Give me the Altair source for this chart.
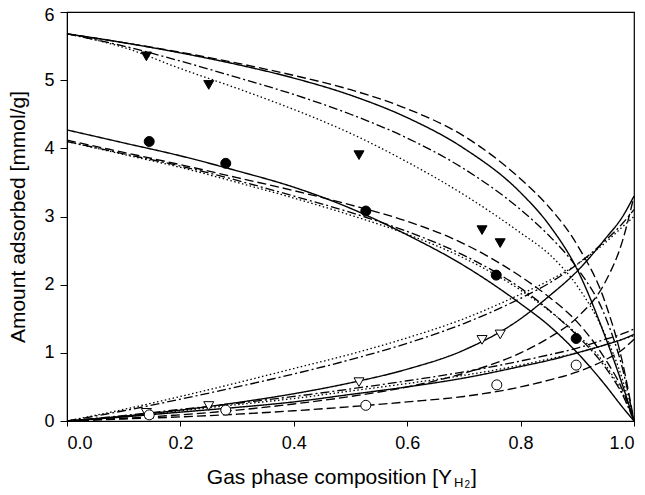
import altair as alt
import pandas as pd

# common x grid for the model curves
x_grid = [0.0, 0.1, 0.2, 0.3, 0.4, 0.5, 0.6, 0.7, 0.8, 0.85, 0.9, 0.95, 0.98, 1.0]

# group A (upper, filled triangles)
a_solid = [5.68, 5.55, 5.40, 5.23, 5.03, 4.78, 4.45, 4.00, 3.35, 2.88, 2.22, 1.22, 0.52, 0.0]
a_dashed = [5.68, 5.55, 5.41, 5.25, 5.07, 4.86, 4.58, 4.18, 3.55, 3.14, 2.58, 1.72, 0.85, 0.0]
a_dashdot = [5.68, 5.50, 5.28, 5.04, 4.79, 4.50, 4.15, 3.70, 3.10, 2.72, 2.24, 1.52, 0.76, 0.0]
a_dotted = [5.68, 5.48, 5.17, 4.88, 4.57, 4.22, 3.80, 3.32, 2.76, 2.45, 1.98, 1.25, 0.60, 0.0]

# group B (filled circles)
b_solid = [4.27, 4.08, 3.89, 3.67, 3.43, 3.12, 2.73, 2.28, 1.72, 1.40, 1.00, 0.52, 0.20, 0.0]
b_dashed = [4.12, 3.94, 3.76, 3.57, 3.38, 3.17, 2.93, 2.60, 2.12, 1.82, 1.45, 0.90, 0.45, 0.0]
b_dashdot = [4.10, 3.92, 3.74, 3.53, 3.30, 3.06, 2.78, 2.43, 1.95, 1.63, 1.25, 0.78, 0.38, 0.0]
b_dotted = [4.10, 3.91, 3.72, 3.50, 3.27, 3.02, 2.74, 2.39, 1.92, 1.62, 1.27, 0.82, 0.40, 0.0]

# group C (open triangles)
c_solid = [0.0, 0.07, 0.16, 0.27, 0.40, 0.56, 0.76, 1.04, 1.50, 1.83, 2.20, 2.68, 3.00, 3.30]
c_dashed = [0.0, 0.04, 0.09, 0.16, 0.25, 0.36, 0.50, 0.70, 1.00, 1.22, 1.52, 2.05, 2.65, 3.30]
c_dashdot = [0.0, 0.15, 0.32, 0.50, 0.69, 0.90, 1.14, 1.43, 1.80, 2.02, 2.30, 2.65, 2.90, 3.10]
c_dotted = [0.0, 0.17, 0.36, 0.56, 0.77, 0.98, 1.22, 1.50, 1.86, 2.06, 2.30, 2.62, 2.85, 3.00]

# group D (open circles)
d_solid = [0.0, 0.06, 0.13, 0.20, 0.28, 0.39, 0.50, 0.63, 0.80, 0.89, 1.00, 1.12, 1.20, 1.27]
d_dashed = [0.0, 0.03, 0.06, 0.10, 0.15, 0.21, 0.28, 0.36, 0.50, 0.60, 0.72, 0.90, 1.05, 1.20]
d_dashdot = [0.0, 0.08, 0.17, 0.26, 0.36, 0.47, 0.59, 0.72, 0.88, 0.97, 1.07, 1.20, 1.28, 1.35]
d_dotted = [0.0, 0.07, 0.15, 0.24, 0.33, 0.44, 0.55, 0.67, 0.82, 0.91, 1.00, 1.12, 1.20, 1.25]

# experimental points
tri_filled_x = [0.14, 0.25, 0.515, 0.732, 0.764]
tri_filled_y = [5.35, 4.93, 3.90, 2.80, 2.61]
circ_filled_x = [0.145, 0.28, 0.527, 0.757, 0.898]
circ_filled_y = [4.10, 3.78, 3.08, 2.14, 1.21]
tri_open_x = [0.14, 0.25, 0.515, 0.732, 0.764]
tri_open_y = [0.12, 0.22, 0.57, 1.19, 1.27]
circ_open_x = [0.145, 0.28, 0.527, 0.758, 0.898]
circ_open_y = [0.09, 0.16, 0.23, 0.53, 0.82]

x_ticks = [0.0, 0.2, 0.4, 0.6, 0.8, 1.0]
y_ticks = [0, 1, 2, 3, 4, 5, 6]

curves = {
    ("A", "solid"): a_solid, ("A", "dashed"): a_dashed,
    ("A", "dashdot"): a_dashdot, ("A", "dotted"): a_dotted,
    ("B", "solid"): b_solid, ("B", "dashed"): b_dashed,
    ("B", "dashdot"): b_dashdot, ("B", "dotted"): b_dotted,
    ("C", "solid"): c_solid, ("C", "dashed"): c_dashed,
    ("C", "dashdot"): c_dashdot, ("C", "dotted"): c_dotted,
    ("D", "solid"): d_solid, ("D", "dashed"): d_dashed,
    ("D", "dashdot"): d_dashdot, ("D", "dotted"): d_dotted,
}
rows = []
for (grp, sty), ys in curves.items():
    for xv, yv in zip(x_grid, ys):
        rows.append({"x": xv, "y": yv, "curve": grp + sty, "style": sty})
lines_df = pd.DataFrame(rows)

pts = []
for xs, ys, kind in [(tri_filled_x, tri_filled_y, "tri_f"), (circ_filled_x, circ_filled_y, "circ_f"),
                     (tri_open_x, tri_open_y, "tri_o"), (circ_open_x, circ_open_y, "circ_o")]:
    for xv, yv in zip(xs, ys):
        pts.append({"x": xv, "y": yv, "kind": kind})
pts_df = pd.DataFrame(pts)

W, H = 567, 409
xscale = alt.Scale(domain=[0, 1], nice=False, zero=False)
yscale = alt.Scale(domain=[0, 6], nice=False)

xaxis = alt.Axis(values=x_ticks, format=".1f", title=None, grid=False, tickSize=5,
                 labelPadding=8, labelFontSize=18, labelFont="Liberation Sans",
                 domainColor="black", tickColor="black", labelColor="black")
yaxis = alt.Axis(values=y_ticks, format="d", title="Amount adsorbed [mmol/g]", grid=False,
                 tickSize=7, labelPadding=6, labelFontSize=18, labelFont="Liberation Sans",
                 labelOffset={"condition": {"test": "datum.value == 6", "value": 3}, "value": 0},
                 titleFontSize=21, titleFont="Liberation Sans", titleFontWeight="normal",
                 titlePadding=15, titleColor="black",
                 domainColor="black", tickColor="black", labelColor="black")

lines = alt.Chart(lines_df).mark_line(interpolate="monotone", color="black").encode(
    x=alt.X("x:Q", scale=xscale, axis=xaxis),
    y=alt.Y("y:Q", scale=yscale, axis=yaxis),
    detail="curve:N",
    strokeDash=alt.StrokeDash("style:N", scale=alt.Scale(
        domain=["solid", "dashed", "dashdot", "dotted"],
        range=[[1, 0], [9, 4], [9, 3, 2, 3], [1.5, 2.5]]), legend=None),
    strokeWidth=alt.StrokeWidth("style:N", scale=alt.Scale(
        domain=["solid", "dashed", "dashdot", "dotted"],
        range=[1.4, 1.3, 1.1, 1.1]), legend=None),
)

def pts_layer(kind, shape, filled):
    return alt.Chart(pts_df).transform_filter(alt.datum.kind == kind).mark_point(
        shape=shape, size=100, filled=True,
        fill="black" if filled else "white", stroke="black", strokeWidth=1, opacity=1
    ).encode(x=alt.X("x:Q", scale=xscale), y=alt.Y("y:Q", scale=yscale))

p1 = pts_layer("tri_f", "triangle-down", True)
p2 = pts_layer("circ_f", "circle", True)
p3 = pts_layer("tri_o", "triangle-down", False)
p4 = pts_layer("circ_o", "circle", False)

title_main = alt.Chart(pd.DataFrame({"t": ["Gas phase composition [Y"]})).mark_text(
    align="right", baseline="alphabetic", fontSize=21, font="Liberation Sans", color="black"
).encode(text="t:N", x=alt.value(385), y=alt.value(472))
title_h = alt.Chart(pd.DataFrame({"t": ["H"]})).mark_text(
    align="left", baseline="alphabetic", fontSize=13, font="Liberation Sans", color="black"
).encode(text="t:N", x=alt.value(387), y=alt.value(475))
title_2 = alt.Chart(pd.DataFrame({"t": ["2"]})).mark_text(
    align="left", baseline="alphabetic", fontSize=10, font="Liberation Sans", color="black"
).encode(text="t:N", x=alt.value(397.5), y=alt.value(476))
title_end = alt.Chart(pd.DataFrame({"t": ["]"]})).mark_text(
    align="left", baseline="alphabetic", fontSize=21, font="Liberation Sans", color="black"
).encode(text="t:N", x=alt.value(404), y=alt.value(472))

chart = alt.layer(lines, p1, p2, p3, p4, title_main, title_h, title_2, title_end).properties(
    width=W, height=H,
    autosize=alt.AutoSizeParams(type="none"),
    padding={"left": 59, "top": 4, "right": 3, "bottom": 68},
).configure_view(stroke="black", strokeWidth=1.2)

chart.save("out.html", embed_options={"renderer": "svg", "actions": False})
